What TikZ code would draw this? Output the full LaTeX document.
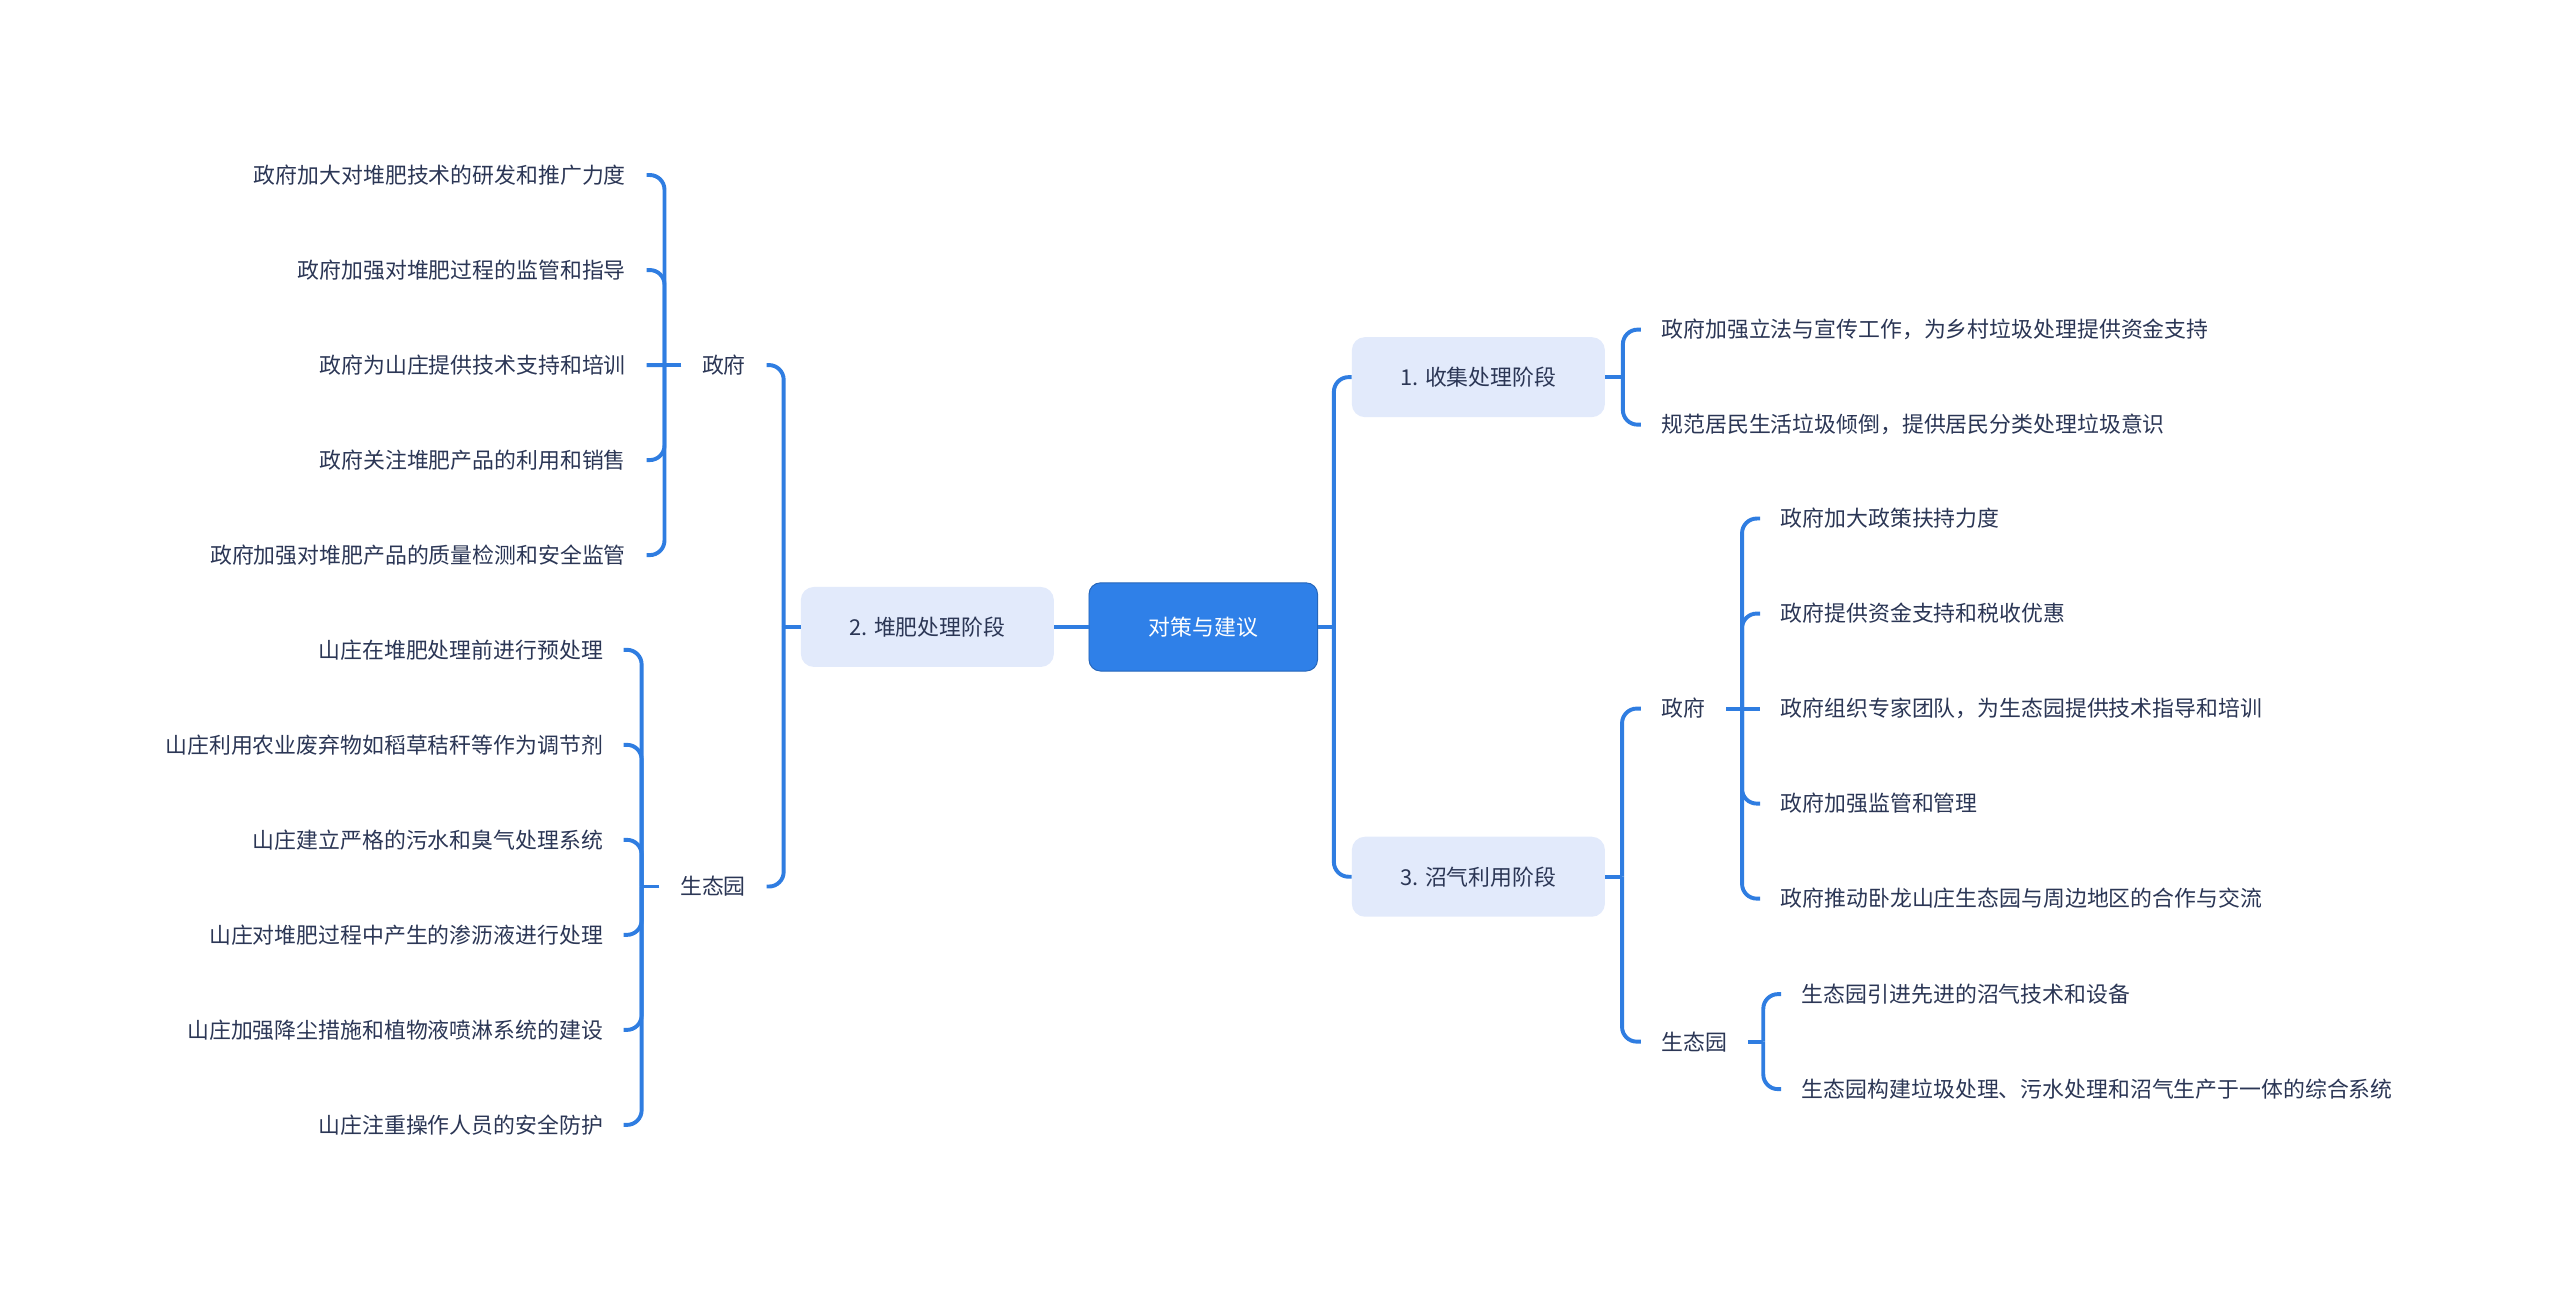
\documentclass[tikz,border=0pt]{standalone}
\usepackage{fontspec}
\setmainfont{Noto Sans CJK SC}
\usetikzlibrary{positioning}

\definecolor{linkblue}{HTML}{2F7DE1}
\definecolor{rootblue}{HTML}{2F80E8}
\definecolor{stagefill}{HTML}{E2EAFB}
\definecolor{inktext}{HTML}{2B3655}

\tikzset{
  conn/.style={draw=linkblue, line width=2.4pt, rounded corners=9pt},
  mapfont/.style={font=\fontsize{13.4}{16}\selectfont},
  rootbox/.style={mapfont, fill=rootblue, draw=rootblue!80!black, line width=0.6pt,
    rounded corners=7pt, minimum width=140pt, minimum height=54pt, inner sep=0pt, text=white},
  stagebox/.style={mapfont, fill=stagefill, rounded corners=8pt,
    minimum width=155pt, minimum height=49pt, inner sep=0pt, text=inktext},
  leaf/.style={mapfont, text=inktext, inner xsep=12.5pt, inner ysep=2pt},
}

\begin{document}
\begin{tikzpicture}[x=1pt, y=-1pt]
    \useasboundingbox (0,0) rectangle (1568,797);

    % Centre topic and the three stages
    \node[rootbox] (root) at (737,384) {对策与建议};
    \node[stagebox] (compost) at (568,384) {2. 堆肥处理阶段};
    \node[stagebox] (collect) at (905.5,231) {1. 收集处理阶段};
    \node[stagebox] (biogas) at (905.5,537) {3. 沼气利用阶段};

    \draw[conn] (root.west) -- (compost.east);
    \coordinate (rootj) at (817,384);
    \draw[conn] (root.east) -- (rootj);
    \draw[conn] (rootj) |- (collect.west);
    \draw[conn] (rootj) |- (biogas.west);

    % Left side: composting stage
    \node[leaf, anchor=east] (lgov) at (469.5,223.6) {政府};
    \node[leaf, anchor=east] (leco) at (469.5,543) {生态园};
    \coordinate (lj) at (480,384);
    \draw[conn] (compost.west) -- (lj);
    \draw[conn] (lj) |- (lgov.east);
    \draw[conn] (lj) |- (leco.east);

    % Government measures (left)
    \coordinate (lgovj) at (407,223.6);
    \draw[conn] (lgov.west) -- (lgovj);
    \foreach \t [count=\i] in {政府加大对堆肥技术的研发和推广力度, 政府加强对堆肥过程的监管和指导,
        政府为山庄提供技术支持和培训, 政府关注堆肥产品的利用和销售, 政府加强对堆肥产品的质量检测和安全监管} {
        \node[leaf, anchor=east] (lgov\i) at (396, 107.2+58.2*\i-58.2) {\t};
        \ifnum\i=3
            \draw[conn] (lgovj) -- (lgov\i.east);
        \else
            \draw[conn] (lgovj) |- (lgov\i.east);
        \fi
    }

    % Eco-park measures (left)
    \coordinate (lecoj) at (393,543);
    \draw[conn] (leco.west) -- (lecoj);
    \foreach \t [count=\i] in {山庄在堆肥处理前进行预处理, 山庄利用农业废弃物如稻草秸秆等作为调节剂,
        山庄建立严格的污水和臭气处理系统, 山庄对堆肥过程中产生的渗沥液进行处理,
        山庄加强降尘措施和植物液喷淋系统的建设, 山庄注重操作人员的安全防护} {
        \node[leaf, anchor=east] (leco\i) at (382, 398+58.2*\i-58.2) {\t};
        \draw[conn] (lecoj) |- (leco\i.east);
    }

    % Right side: collection stage
    \coordinate (colj) at (994,231);
    \draw[conn] (collect.east) -- (colj);
    \foreach \t [count=\i] in {政府加强立法与宣传工作，为乡村垃圾处理提供资金支持,
        规范居民生活垃圾倾倒，提供居民分类处理垃圾意识} {
        \node[leaf, anchor=west] (col\i) at (1005, 201.9+58.2*\i-58.2) {\t};
        \draw[conn] (colj) |- (col\i.west);
    }

    % Right side: biogas stage
    \node[leaf, anchor=west] (rgov) at (1005,434) {政府};
    \node[leaf, anchor=west] (reco) at (1005,638) {生态园};
    \coordinate (bioj) at (993.5,537);
    \draw[conn] (biogas.east) -- (bioj);
    \draw[conn] (bioj) |- (rgov.west);
    \draw[conn] (bioj) |- (reco.west);

    % Government measures (right)
    \coordinate (rgovj) at (1067,434);
    \draw[conn] (rgov.east) -- (rgovj);
    \foreach \t [count=\i] in {政府加大政策扶持力度, 政府提供资金支持和税收优惠,
        政府组织专家团队，为生态园提供技术指导和培训, 政府加强监管和管理,
        政府推动卧龙山庄生态园与周边地区的合作与交流} {
        \node[leaf, anchor=west] (rgov\i) at (1078, 317.6+58.2*\i-58.2) {\t};
        \ifnum\i=3
            \draw[conn] (rgovj) -- (rgov\i.west);
        \else
            \draw[conn] (rgovj) |- (rgov\i.west);
        \fi
    }

    % Eco-park measures (right)
    \coordinate (recoj) at (1080,638);
    \draw[conn] (reco.east) -- (recoj);
    \foreach \t [count=\i] in {生态园引进先进的沼气技术和设备,
        生态园构建垃圾处理、污水处理和沼气生产于一体的综合系统} {
        \node[leaf, anchor=west] (reco\i) at (1091, 608.9+58.2*\i-58.2) {\t};
        \draw[conn] (recoj) |- (reco\i.west);
    }
\end{tikzpicture}
\end{document}
